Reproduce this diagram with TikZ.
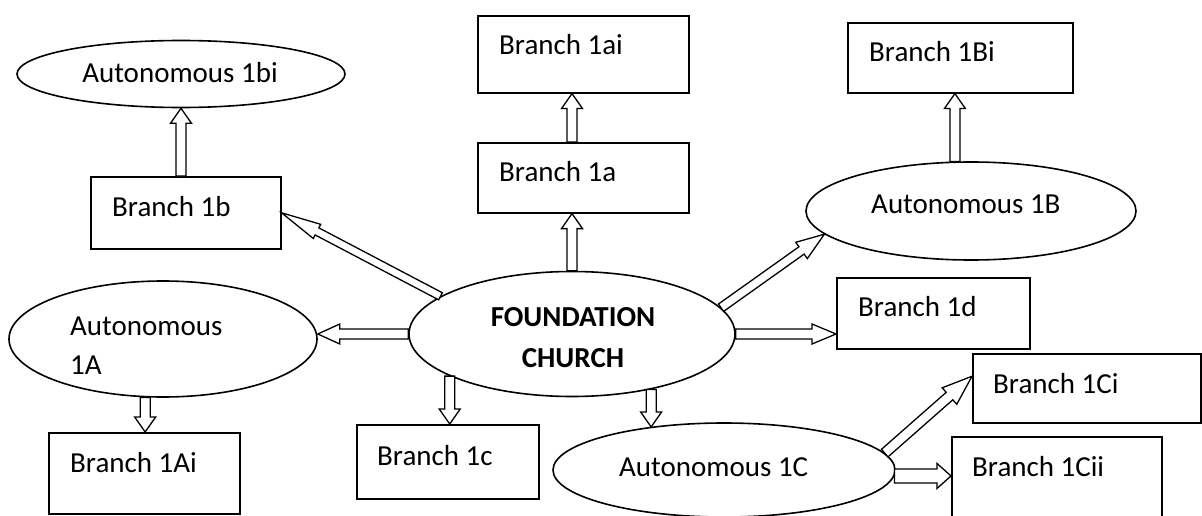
\documentclass[tikz,border=0pt]{standalone}
\usepackage{fontspec}
\setmainfont{Carlito}
\usetikzlibrary{shapes.geometric,calc}

\begin{document}
\begin{tikzpicture}[x=1pt,y=-1pt,
  outline/.style={draw=black, line width=1.6pt},
  box/.style={outline, rectangle, inner sep=0pt, anchor=north west},
  oval/.style={outline, ellipse, inner sep=0pt},
  lbl/.style={inner sep=0pt, font=\fontsize{29}{39}\selectfont},
  boldlbl/.style={inner sep=0pt, font=\fontsize{29}{39}\selectfont\bfseries},
  % hollow block arrow: #1 half shaft width, #2 half head width, #3 head length
  blockarrow/.style n args={3}{draw=black, line width=1.3pt, fill=white, line join=miter,
    to path={
      ($(\tikztostart)!#1!90:(\tikztotarget)$)
      -- ($($(\tikztotarget)!#3!(\tikztostart)$)!#1!90:(\tikztotarget)$)
      -- ($($(\tikztotarget)!#3!(\tikztostart)$)!#2!90:(\tikztotarget)$)
      -- (\tikztotarget)
      -- ($($(\tikztotarget)!#3!(\tikztostart)$)!#2!-90:(\tikztotarget)$)
      -- ($($(\tikztotarget)!#3!(\tikztostart)$)!#1!-90:(\tikztotarget)$)
      -- ($(\tikztostart)!#1!-90:(\tikztotarget)$)
      -- cycle}},
  arr/.style={blockarrow={5pt}{10.5pt}{15pt}},
]
\useasboundingbox (0,0) rectangle (1202,516);
\clip (0,0) rectangle (1202,516);

% ellipses
\node[oval, minimum width=328pt, minimum height=67pt]  (e1bi)  at (181,74)  {};
\node[oval, minimum width=330pt, minimum height=98pt]  (e1B)   at (971,211) {};
\node[oval, minimum width=326pt, minimum height=125pt] (found) at (572,334) {};
\node[oval, minimum width=308pt, minimum height=116pt] (e1A)   at (163,339) {};
\node[oval, minimum width=342pt, minimum height=94pt]  (e1C)   at (724,470) {};

% boxes
\node[box, minimum width=211pt, minimum height=77pt]  (b1ai)  at (477,15)  {};
\node[box, minimum width=211pt, minimum height=70pt]  (b1a)   at (477,142) {};
\node[box, minimum width=190pt, minimum height=72pt]  (b1b)   at (90,176)  {};
\node[box, minimum width=225pt, minimum height=70pt]  (b1Bi)  at (847,22)  {};
\node[box, minimum width=193pt, minimum height=71pt]  (b1d)   at (836,277) {};
\node[box, minimum width=182pt, minimum height=74pt]  (b1c)   at (356,424) {};
\node[box, minimum width=191pt, minimum height=81pt]  (b1Ai)  at (48,432)  {};
\node[box, minimum width=228pt, minimum height=69pt]  (b1Ci)  at (972,353) {};
\node[box, minimum width=210pt, minimum height=110pt] (b1Cii) at (951,436) {};

% box captions
\node[lbl, anchor=base west] (t1ai)  at ($(b1ai.north west)+(22,40)$)  {Branch 1ai};
\node[lbl, anchor=base west] (t1a)   at ($(b1a.north west)+(22,40)$)   {Branch 1a};
\node[lbl, anchor=base west] (t1b)   at ($(b1b.north west)+(22,40)$)   {Branch 1b};
\node[lbl, anchor=base west] (t1Bi)  at ($(b1Bi.north west)+(22,40)$)  {Branch 1Bi};
\node[lbl, anchor=base west] (t1d)   at ($(b1d.north west)+(22,39)$)   {Branch 1d};
\node[lbl, anchor=base west] (t1c)   at ($(b1c.north west)+(21,41)$)   {Branch 1c};
\node[lbl, anchor=base west] (t1Ai)  at ($(b1Ai.north west)+(22,40)$)  {Branch 1Ai};
\node[lbl, anchor=base west] (t1Ci)  at ($(b1Ci.north west)+(21,40)$)  {Branch 1Ci};
\node[lbl, anchor=base west] (t1Cii) at ($(b1Cii.north west)+(21,40)$) {Branch 1Cii};

% ellipse captions
\node[lbl, anchor=base]      (t1bi)   at (180,83)  {Autonomous 1bi};
\node[lbl, anchor=base west] (t1B)    at (871,213) {Autonomous 1B};
\node[lbl, anchor=base west] (t1C)    at (619,476) {Autonomous 1C};
\node[lbl, anchor=base west] (t1Aa)   at (70,335)  {Autonomous};
\node[lbl, anchor=base west] (t1Ab)   at (70,374)  {1A};
\node[boldlbl, anchor=base]  (tfounda) at (573,326) {FOUNDATION};
\node[boldlbl, anchor=base]  (tfoundb) at (573,367) {CHURCH};

% connectors
\draw[arr] (found.north) to (found.north |- b1a.south);
\draw[arr] (b1a.north -| found.north) to (b1ai.south -| found.north);
\draw[arr] (e1bi.south |- b1b.north) to (e1bi.south);
\draw[arr] (e1B.108) to (e1B.108 |- b1Bi.south);
\draw[blockarrow={4.5pt}{10pt}{28pt}] (found.10.5) to (e1B.189);
\draw[blockarrow={5pt}{10pt}{24pt}] (found.east) to (found.east -| b1d.west);
\draw[blockarrow={5pt}{10pt}{22pt}] (found.west) to (found.west -| e1A.east);
\draw[arr] (found.199) to (found.199 |- b1c.north);
\draw[arr] (found.325.5) to (found.325.5 |- e1C.150);
\draw[arr] (e1A.253) to (e1A.253 |- b1Ai.north);
\draw[blockarrow={4pt}{8pt}{40pt}] (found.164.4) to (b1b.east);
\draw[blockarrow={5pt}{11pt}{30pt}] (e1C.6) to (b1Ci.174);
\draw[blockarrow={7pt}{12.5pt}{14pt}] (e1C.358.3) to (e1C.358.3 -| b1Cii.west);
\end{tikzpicture}
\end{document}
